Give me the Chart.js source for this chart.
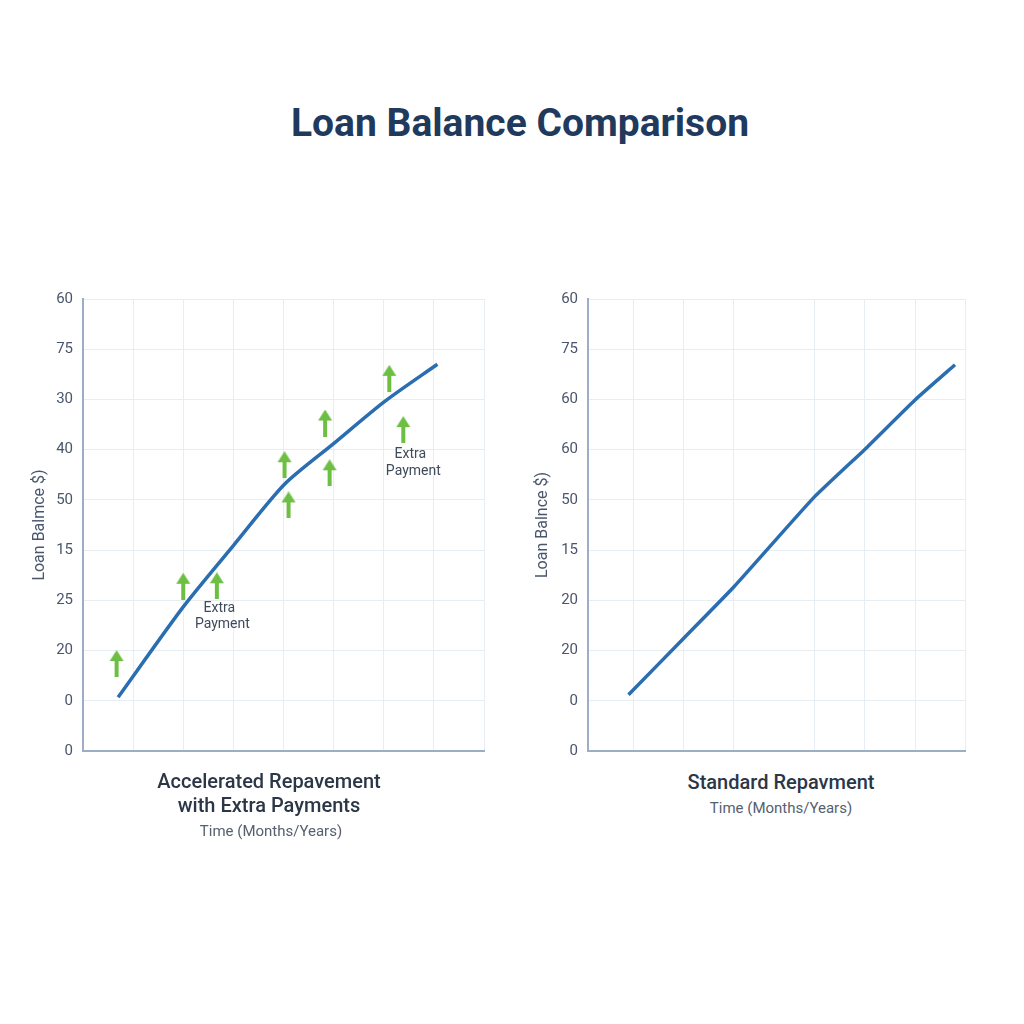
<!DOCTYPE html>
<html>
<head>
<meta charset="utf-8">
<script src="https://cdn.jsdelivr.net/npm/chart.js@4.4.1/dist/chart.umd.min.js"></script>
<style>
  html, body { margin: 0; padding: 0; background: #ffffff; }
  body { width: 1024px; height: 1024px; position: relative; overflow: hidden; font-family: Roboto, "Noto Sans", sans-serif; }
  .txt { position: absolute; white-space: nowrap; transform: translateX(-50%); text-align: center; }
  #title { left: 520px; top: 99px; font-size: 39px; line-height: 48px; font-weight: 700; color: #1f3a5c; }
  .sub { font-size: 20px; line-height: 24px; font-weight: 500; color: #2b3646; }
  .axis { font-size: 15px; line-height: 20px; font-weight: 400; color: #555f6e; }
  .wrap { position: absolute; }
</style>
</head>
<body>
<div id="title" class="txt">Loan Balance Comparison</div>
<div class="wrap" style="left:0px; top:280px; width:500px; height:490px;"><canvas id="left"></canvas></div>
<div class="wrap" style="left:500px; top:280px; width:500px; height:490px;"><canvas id="right"></canvas></div>
<div class="txt sub" style="left:269px; top:769px;">Accelerated Repavement</div>
<div class="txt sub" style="left:269px; top:793px;">with Extra Payments</div>
<div class="txt axis" style="left:271px; top:821px;">Time (Months/Years)</div>
<div class="txt sub" style="left:781px; top:770px;">Standard Repavment</div>
<div class="txt axis" style="left:781px; top:798px;">Time (Months/Years)</div>
<script>
// ---- Data (y values are in tick-index units; tick labels shown from the arrays below) ----
const leftYLabels  = ['0', '0', '20', '25', '15', '50', '40', '30', '75', '60'];
const rightYLabels = ['0', '0', '20', '20', '15', '50', '60', '60', '75', '60'];

const accelX = [0.70, 2.00, 3.00, 4.02, 5.00, 6.02, 7.07];
const accelY = [1.07, 2.87, 4.09, 5.31, 6.12, 6.96, 7.70];

const arrowX = [0.67, 2.00, 2.67, 4.02, 4.10, 4.83, 4.92, 6.11, 6.39];
const arrowY = [1.74, 3.28, 3.29, 5.70, 4.90, 6.53, 5.54, 7.42, 6.40];

const noteText = ['Extra', 'Payment', 'Extra', 'Payment'];
const noteX = [2.72, 2.78, 6.53, 6.59];
const noteY = [2.83, 2.52, 5.90, 5.56];

const stdX = [0.81, 1.91, 2.91, 4.51, 5.53, 6.54, 7.34];
const stdY = [1.12, 2.24, 3.26, 5.04, 6.00, 6.99, 7.69];
const stdGridX = [0, 0.9, 1.9, 2.9, 4.52, 5.52, 6.54, 7.54];

const LINE_COLOR = '#2a6db0';
const ARROW_COLOR = '#6cbf42';
const GRID_COLOR = '#e6eef4';
const AXIS_COLOR = '#9eadc6';
const TICK_COLOR = '#4a566c';

function pts(xs, ys) { return xs.map((x, i) => ({ x: x, y: ys[i] })); }

// arrow image used as point style
const arrowImg = document.createElement('canvas');
arrowImg.width = 16; arrowImg.height = 27;
(function () {
  const c = arrowImg.getContext('2d');
  c.fillStyle = ARROW_COLOR;
  c.beginPath();
  c.moveTo(8, 0); c.lineTo(15, 11); c.lineTo(1, 11); c.closePath(); c.fill();
  c.fillRect(6, 10, 4, 17);
})();

const notesPlugin = {
  id: 'notes',
  afterDatasetsDraw(chart, args, opts) {
    if (!opts.enabled) return;
    const ctx = chart.ctx, xs = chart.scales.x, ys = chart.scales.y;
    ctx.save();
    ctx.font = '14px Roboto, "Noto Sans", sans-serif';
    ctx.fillStyle = '#3f4a5b';
    ctx.textAlign = 'center';
    ctx.textBaseline = 'middle';
    noteText.forEach((t, i) => ctx.fillText(t, xs.getPixelForValue(noteX[i]), ys.getPixelForValue(noteY[i])));
    ctx.restore();
  }
};

function yScale(labels, width, title, pad) {
  return {
    min: 0, max: 9,
    afterFit(scale) { scale.width = width; },
    ticks: { stepSize: 1, padding: 10, color: TICK_COLOR, font: { family: 'Roboto', size: 15 },
             callback: (v) => labels[v] },
    grid: { color: GRID_COLOR, drawTicks: false, lineWidth: 1 },
    border: { color: AXIS_COLOR, width: 2 },
    title: { display: true, text: title, color: '#4a566c', font: { family: 'Roboto', size: 16 },
             padding: { top: pad, bottom: 0 } }
  };
}

Chart.register(notesPlugin);

new Chart(document.getElementById('left'), {
  type: 'line',
  data: {
    datasets: [
      { type: 'line', data: pts(accelX, accelY), borderColor: LINE_COLOR, borderWidth: 3.5,
        pointRadius: 0, tension: 0.25, fill: false },
      { type: 'scatter', data: pts(arrowX, arrowY), pointStyle: arrowImg, pointRadius: 10 }
    ]
  },
  options: {
    responsive: true, maintainAspectRatio: false, animation: false,
    layout: { padding: { top: 18, right: 16, bottom: 17, left: 0 } },
    plugins: { legend: { display: false }, tooltip: { enabled: false }, notes: { enabled: true } },
    scales: {
      x: { type: 'linear', min: 0, max: 8, afterFit(s) { s.height = 0; },
           ticks: { display: false, stepSize: 1 },
           grid: { color: GRID_COLOR, drawTicks: false },
           border: { color: AXIS_COLOR, width: 2 } },
      y: yScale(leftYLabels, 83, 'Loan Balmce $)', 30)
    }
  }
});

new Chart(document.getElementById('right'), {
  type: 'line',
  data: {
    datasets: [
      { type: 'line', data: pts(stdX, stdY), borderColor: LINE_COLOR, borderWidth: 3.5,
        pointRadius: 0, tension: 0.15, fill: false }
    ]
  },
  options: {
    responsive: true, maintainAspectRatio: false, animation: false,
    layout: { padding: { top: 18, right: 35, bottom: 17, left: 0 } },
    plugins: { legend: { display: false }, tooltip: { enabled: false }, notes: { enabled: false } },
    scales: {
      x: { type: 'linear', min: 0, max: 7.54, afterFit(s) { s.height = 0; },
           afterBuildTicks(s) { s.ticks = stdGridX.map(v => ({ value: v })); },
           ticks: { display: false },
           grid: { color: GRID_COLOR, drawTicks: false },
           border: { color: AXIS_COLOR, width: 2 } },
      y: yScale(rightYLabels, 88, 'Loan Balnce $)', 33)
    }
  }
});
</script>
</body>
</html>
